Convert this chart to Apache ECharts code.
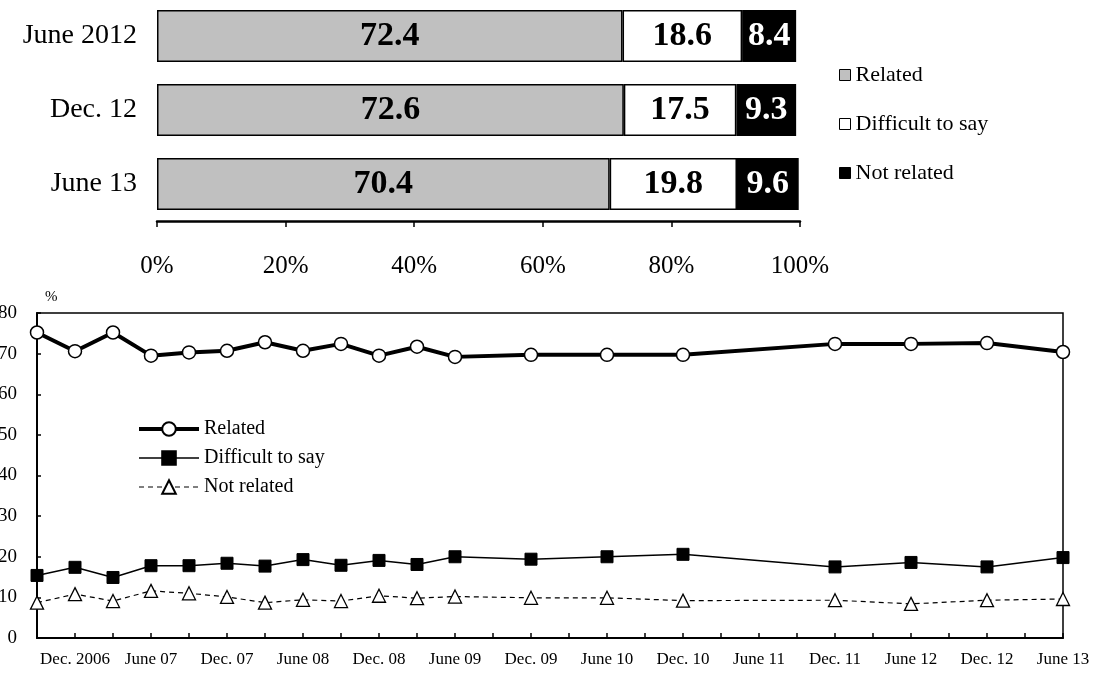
<!DOCTYPE html>
<html>
<head>
<meta charset="utf-8">
<script src="https://cdn.jsdelivr.net/npm/echarts@6/dist/echarts.min.js"></script>
<style>
  html, body { margin: 0; padding: 0; background: #fff; }
  #chart { width: 1099px; height: 673px; }
</style>
</head>
<body>
<div id="chart"></div>
<script>
// top stacked bar: survey rounds
const barRounds = ['June 2012', 'Dec. 12', 'June 13']
const barRelated = [72.4, 72.6, 70.4]
const barDifficult = [18.6, 17.5, 19.8]
const barNotRelated = [8.4, 9.3, 9.6]

// bottom trend: quarterly slots, only some surveyed
const quarters = [
  'Sep. 06', 'Dec. 2006', 'Mar. 07', 'June 07', 'Sep. 07', 'Dec. 07', 'Mar. 08', 'June 08',
  'Sep. 08', 'Dec. 08', 'Mar. 09', 'June 09', 'Sep. 09', 'Dec. 09', 'Mar. 10', 'June 10',
  'Sep. 10', 'Dec. 10', 'Mar. 11', 'June 11', 'Sep. 11', 'Dec. 11', 'Mar. 12', 'June 12',
  'Sep. 12', 'Dec. 12', 'Mar. 13', 'June 13'
]
const trendRelated = [75.2, 70.6, 75.2, 69.5, 70.3, 70.7, 72.8, 70.7, 72.4, 69.5, 71.7, 69.2,
  null, 69.7, null, 69.7, null, 69.7, null, null, null, 72.4, null, 72.4, null, 72.6, null, 70.4]
const trendDifficult = [15.4, 17.4, 14.9, 17.8, 17.8, 18.4, 17.7, 19.3, 17.9, 19.1, 18.1, 20.0,
  null, 19.4, null, 20.0, null, 20.6, null, null, null, 17.5, null, 18.6, null, 17.5, null, 19.8]
const trendNotRelated = [8.7, 10.8, 9.1, 11.6, 11.0, 10.1, 8.7, 9.4, 9.1, 10.4, 9.8, 10.2,
  null, 9.9, null, 9.9, null, 9.2, null, null, null, 9.3, null, 8.4, null, 9.3, null, 9.6]

const FONT = '"Liberation Serif", "Times New Roman", serif'
const lineNames = { 'Related (trend)': 'Related', 'Difficult (trend)': 'Difficult to say', 'Not related (trend)': 'Not related' }

const chart = echarts.init(document.getElementById('chart'))

function barSeries(name, data, color, labelColor) {
  return {
    name,
    type: 'bar',
    stack: 'share',
    xAxisIndex: 0,
    yAxisIndex: 0,
    barWidth: 52,
    data,
    itemStyle: { color, borderColor: '#000', borderWidth: 1.5 },
    label: {
      show: true,
      position: 'inside',
      color: labelColor,
      fontFamily: FONT,
      fontWeight: 'bold',
      fontSize: 34
    }
  }
}

const option = {
  animation: false,
  textStyle: { fontFamily: FONT, color: '#000' },
  grid: [
    { left: 157, width: 643, top: -1, height: 222, outerBoundsMode: 'none' },
    { left: 37, right: 36, top: 313, bottom: 35, show: true, borderColor: '#000', borderWidth: 1.5, outerBoundsMode: 'none' }
  ],
  legend: [
    {
      orient: 'vertical',
      left: 834,
      top: 59,
      itemWidth: 11,
      itemHeight: 11,
      itemGap: 27,
      textStyle: { fontFamily: FONT, fontSize: 22, color: '#000' },
      data: [
        { name: 'Related', icon: 'rect', itemStyle: { color: '#c0c0c0', borderColor: '#000', borderWidth: 1 } },
        { name: 'Difficult to say', icon: 'rect', itemStyle: { color: '#fff', borderColor: '#000', borderWidth: 1 } },
        { name: 'Not related', icon: 'rect', itemStyle: { color: '#000', borderColor: '#000', borderWidth: 1 } }
      ]
    },
    {
      orient: 'vertical',
      left: 132,
      top: 414,
      itemWidth: 60,
      itemHeight: 17,
      itemGap: 9,
      formatter: name => lineNames[name],
      textStyle: { fontFamily: FONT, fontSize: 20, color: '#000' },
      data: [
        { name: 'Related (trend)', lineStyle: { width: 4, color: '#000' } },
        { name: 'Difficult (trend)', lineStyle: { width: 1.5, color: '#000' } },
        { name: 'Not related (trend)', lineStyle: { width: 1.2, color: '#000', type: [5, 4] } }
      ]
    }
  ],
  xAxis: [
    {
      gridIndex: 0,
      type: 'value',
      min: 0,
      max: 100,
      interval: 20,
      axisLine: { show: true, lineStyle: { color: '#000', width: 2.5 } },
      axisTick: { show: true, length: 6, lineStyle: { color: '#000', width: 1.5 } },
      axisLabel: { formatter: '{value}%', color: '#000', fontFamily: FONT, fontSize: 25, margin: 33 },
      splitLine: { show: false }
    },
    {
      gridIndex: 1,
      type: 'category',
      data: quarters,
      boundaryGap: false,
      axisLine: { lineStyle: { color: '#000', width: 2 } },
      axisTick: { inside: true, length: 5, interval: 0, lineStyle: { color: '#000', width: 1.5 } },
      axisLabel: {
        interval: (i) => i % 2 === 1,
        color: '#000',
        fontFamily: FONT,
        fontSize: 17,
        margin: 13
      },
      splitLine: { show: false }
    }
  ],
  yAxis: [
    {
      gridIndex: 0,
      type: 'category',
      inverse: true,
      data: barRounds,
      axisLine: { show: false },
      axisTick: { show: false },
      axisLabel: { color: '#000', fontFamily: FONT, fontSize: 28, margin: 20 }
    },
    {
      gridIndex: 1,
      type: 'value',
      min: 0,
      max: 80,
      interval: 10,
      name: '%',
      nameLocation: 'end',
      nameGap: 8,
      nameTextStyle: { color: '#000', fontFamily: FONT, fontSize: 15, align: 'left', padding: [0, 0, 0, 8] },
      axisLine: { show: true, lineStyle: { color: '#000', width: 2 } },
      axisTick: { show: true, inside: true, length: 4, lineStyle: { color: '#000', width: 1.5 } },
      axisLabel: { color: '#000', fontFamily: FONT, fontSize: 19, margin: 20 },
      splitLine: { show: false }
    }
  ],
  series: [
    barSeries('Related', barRelated, '#c0c0c0', '#000'),
    barSeries('Difficult to say', barDifficult, '#fff', '#000'),
    barSeries('Not related', barNotRelated, '#000', '#fff'),
    {
      name: 'Not related (trend)',
      type: 'line',
      xAxisIndex: 1,
      yAxisIndex: 1,
      data: trendNotRelated,
      connectNulls: true,
      symbol: 'triangle',
      symbolSize: 13,
      lineStyle: { color: '#000', width: 1.2, type: [5, 4] },
      itemStyle: { color: '#fff', borderColor: '#000', borderWidth: 1.3 },
      z: 3
    },
    {
      name: 'Difficult (trend)',
      type: 'line',
      xAxisIndex: 1,
      yAxisIndex: 1,
      data: trendDifficult,
      connectNulls: true,
      symbol: 'rect',
      symbolSize: 12,
      lineStyle: { color: '#000', width: 1.5 },
      itemStyle: { color: '#000', borderColor: '#000', borderWidth: 1 },
      z: 4
    },
    {
      name: 'Related (trend)',
      type: 'line',
      xAxisIndex: 1,
      yAxisIndex: 1,
      data: trendRelated,
      connectNulls: true,
      symbol: 'circle',
      symbolSize: 13,
      lineStyle: { color: '#000', width: 4 },
      itemStyle: { color: '#fff', borderColor: '#000', borderWidth: 1.5 },
      z: 5
    }
  ]
}

chart.setOption(option)
</script>
</body>
</html>
